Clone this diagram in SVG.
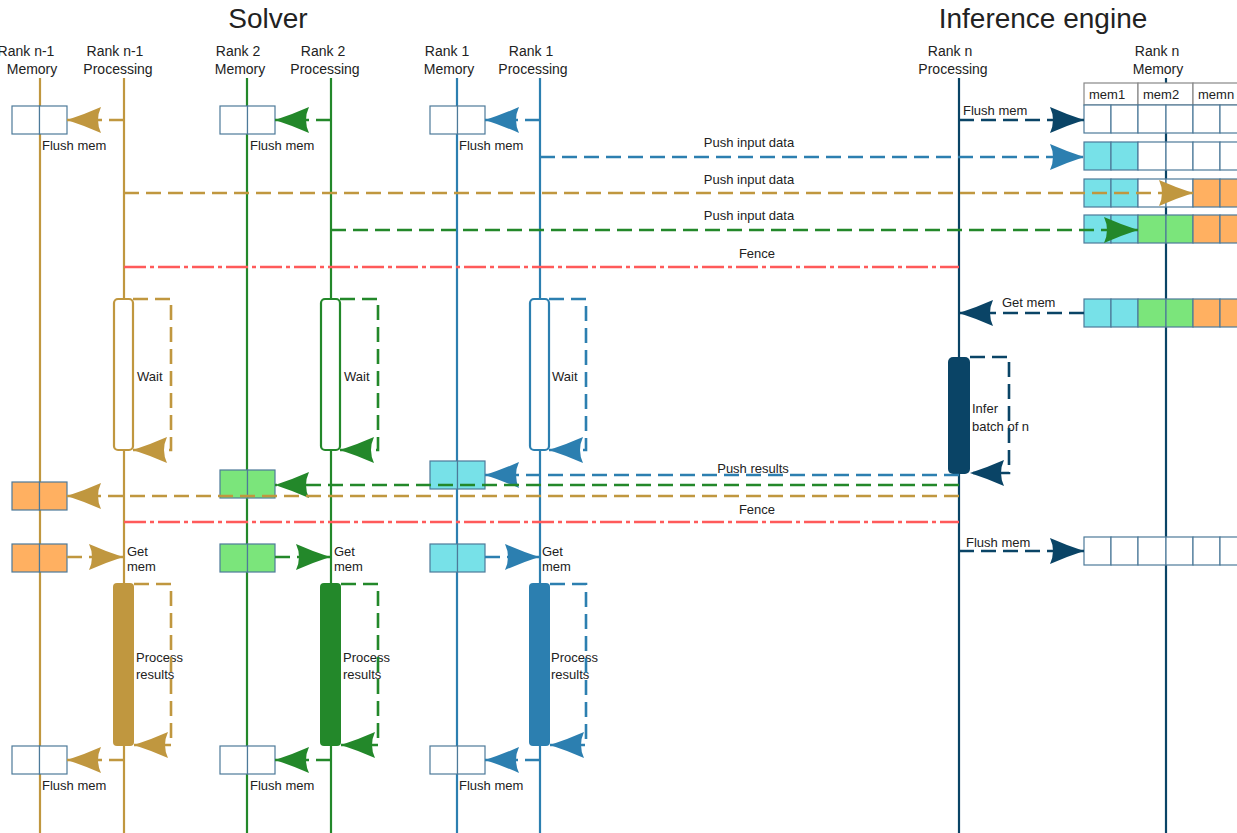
<svg xmlns="http://www.w3.org/2000/svg" width="1237" height="833" viewBox="0 0 1237 833">
<style>
text{font-family:"Liberation Sans",Arial,sans-serif;fill:#222}
.title{font-size:28px;text-anchor:middle}
.hdr{font-size:14px;text-anchor:middle}
.lbl{font-size:13px}
.mid{text-anchor:middle}
.life{stroke-width:2.2;fill:none}
.gold{stroke:#C0973F}
.green{stroke:#23882A}
.blue{stroke:#2C7FB0}
.navy{stroke:#0A4466}
.dash{stroke-width:2.6;fill:none;stroke-dasharray:15 7}
.fence{stroke:#FF5A5A;stroke-width:2.5;fill:none;stroke-dasharray:22 4 4 4}
.cell{stroke:#4d7a99;stroke-width:1.2}
.w{fill:#fff}
.c{fill:#77E1E8}
.g{fill:#7BE57B}
.o{fill:#FFB061}
.hcell{fill:#fff;stroke:#888;stroke-width:1.2}
</style>
<defs>
<marker id="aGold" markerUnits="userSpaceOnUse" markerWidth="35" markerHeight="27" refX="34" refY="13" orient="auto" viewBox="0 0 35 27"><path d="M34,13 Q17,7.5 0,0 Q6,13 0,26 Q17,18.5 34,13 Z" fill="#C0973F"/></marker>
<marker id="aGreen" markerUnits="userSpaceOnUse" markerWidth="35" markerHeight="27" refX="34" refY="13" orient="auto" viewBox="0 0 35 27"><path d="M34,13 Q17,7.5 0,0 Q6,13 0,26 Q17,18.5 34,13 Z" fill="#23882A"/></marker>
<marker id="aBlue" markerUnits="userSpaceOnUse" markerWidth="35" markerHeight="27" refX="34" refY="13" orient="auto" viewBox="0 0 35 27"><path d="M34,13 Q17,7.5 0,0 Q6,13 0,26 Q17,18.5 34,13 Z" fill="#2C7FB0"/></marker>
<marker id="aNavy" markerUnits="userSpaceOnUse" markerWidth="35" markerHeight="27" refX="34" refY="13" orient="auto" viewBox="0 0 35 27"><path d="M34,13 Q17,7.5 0,0 Q6,13 0,26 Q17,18.5 34,13 Z" fill="#0A4466"/></marker>
</defs>
<rect x="0" y="0" width="1237" height="833" fill="#fff"/>

<g id="titles">
<text class="title" x="268" y="28">Solver</text>
<text class="title" x="1043" y="28">Inference engine</text>
</g>

<g id="lifelines">
<g id="ll-rn1-mem"><text class="hdr" x="26" y="56">Rank n-1</text><text class="hdr" x="32" y="74">Memory</text><line class="life gold" x1="40" y1="78" x2="40" y2="833"/></g>
<g id="ll-rn1-proc"><text class="hdr" x="115" y="56">Rank n-1</text><text class="hdr" x="118" y="74">Processing</text><line class="life gold" x1="124" y1="78" x2="124" y2="833"/></g>
<g id="ll-r2-mem"><text class="hdr" x="238" y="56">Rank 2</text><text class="hdr" x="240" y="74">Memory</text><line class="life green" x1="247" y1="78" x2="247" y2="833"/></g>
<g id="ll-r2-proc"><text class="hdr" x="323" y="56">Rank 2</text><text class="hdr" x="325" y="74">Processing</text><line class="life green" x1="331" y1="78" x2="331" y2="833"/></g>
<g id="ll-r1-mem"><text class="hdr" x="447" y="56">Rank 1</text><text class="hdr" x="449" y="74">Memory</text><line class="life blue" x1="457" y1="78" x2="457" y2="833"/></g>
<g id="ll-r1-proc"><text class="hdr" x="531" y="56">Rank 1</text><text class="hdr" x="533" y="74">Processing</text><line class="life blue" x1="540" y1="78" x2="540" y2="833"/></g>
<g id="ll-rn-proc"><text class="hdr" x="950" y="56">Rank n</text><text class="hdr" x="953" y="74">Processing</text><line class="life navy" stroke-width="2.5" x1="959" y1="78" x2="959" y2="833"/></g>
<g id="ll-rn-mem"><text class="hdr" x="1157" y="56">Rank n</text><text class="hdr" x="1158" y="74">Memory</text><line class="life navy" stroke-width="2.5" x1="1166" y1="78" x2="1166" y2="833"/></g>
</g>

<g id="solver-memory">
<g id="m-rn1-flush1"><rect class="cell w" x="12" y="106" width="27.5" height="28"/><rect class="cell w" x="39.5" y="106" width="27.5" height="28"/></g>
<g id="m-r2-flush1"><rect class="cell w" x="220" y="106" width="27.5" height="28"/><rect class="cell w" x="247.5" y="106" width="27.5" height="28"/></g>
<g id="m-r1-flush1"><rect class="cell w" x="430" y="106" width="27.5" height="28"/><rect class="cell w" x="457.5" y="106" width="27.5" height="28"/></g>
<g id="m-r1-res"><rect class="cell c" x="430" y="461" width="27.5" height="28"/><rect class="cell c" x="457.5" y="461" width="27.5" height="28"/></g>
<g id="m-r2-res"><rect class="cell g" x="220" y="470" width="27.5" height="28"/><rect class="cell g" x="247.5" y="470" width="27.5" height="28"/></g>
<g id="m-rn1-res"><rect class="cell o" x="12" y="482" width="27.5" height="28"/><rect class="cell o" x="39.5" y="482" width="27.5" height="28"/></g>
<g id="m-rn1-get"><rect class="cell o" x="12" y="544" width="27.5" height="28"/><rect class="cell o" x="39.5" y="544" width="27.5" height="28"/></g>
<g id="m-r2-get"><rect class="cell g" x="220" y="544" width="27.5" height="28"/><rect class="cell g" x="247.5" y="544" width="27.5" height="28"/></g>
<g id="m-r1-get"><rect class="cell c" x="430" y="544" width="27.5" height="28"/><rect class="cell c" x="457.5" y="544" width="27.5" height="28"/></g>
<g id="m-rn1-flush2"><rect class="cell w" x="12" y="746" width="27.5" height="28"/><rect class="cell w" x="39.5" y="746" width="27.5" height="28"/></g>
<g id="m-r2-flush2"><rect class="cell w" x="220" y="746" width="27.5" height="28"/><rect class="cell w" x="247.5" y="746" width="27.5" height="28"/></g>
<g id="m-r1-flush2"><rect class="cell w" x="430" y="746" width="27.5" height="28"/><rect class="cell w" x="457.5" y="746" width="27.5" height="28"/></g>
</g>

<g id="rank-n-memory">
<g id="mem-header">
<rect class="hcell" x="1084" y="83" width="54" height="22"/><rect class="hcell" x="1138" y="83" width="55" height="22"/><rect class="hcell" x="1193" y="83" width="55" height="22"/>
<text class="lbl" x="1089" y="99">mem1</text><text class="lbl" x="1143" y="99">mem2</text><text class="lbl" x="1198" y="99">memn</text>
</g>
<g id="mem-row1"><rect class="cell w" x="1084" y="105" width="27" height="28"/><rect class="cell w" x="1111" y="105" width="27" height="28"/><rect class="cell w" x="1138" y="105" width="28" height="28"/><rect class="cell w" x="1166" y="105" width="27" height="28"/><rect class="cell w" x="1193" y="105" width="27" height="28"/><rect class="cell w" x="1220" y="105" width="28" height="28"/></g>
<g id="mem-row2"><rect class="cell c" x="1084" y="142" width="27" height="28"/><rect class="cell c" x="1111" y="142" width="27" height="28"/><rect class="cell w" x="1138" y="142" width="28" height="28"/><rect class="cell w" x="1166" y="142" width="27" height="28"/><rect class="cell w" x="1193" y="142" width="27" height="28"/><rect class="cell w" x="1220" y="142" width="28" height="28"/></g>
<g id="mem-row3"><rect class="cell c" x="1084" y="179" width="27" height="28"/><rect class="cell c" x="1111" y="179" width="27" height="28"/><rect class="cell w" x="1138" y="179" width="28" height="28"/><rect class="cell w" x="1166" y="179" width="27" height="28"/><rect class="cell o" x="1193" y="179" width="27" height="28"/><rect class="cell o" x="1220" y="179" width="28" height="28"/></g>
<g id="mem-row4"><rect class="cell c" x="1084" y="215" width="27" height="28"/><rect class="cell c" x="1111" y="215" width="27" height="28"/><rect class="cell g" x="1138" y="215" width="28" height="28"/><rect class="cell g" x="1166" y="215" width="27" height="28"/><rect class="cell o" x="1193" y="215" width="27" height="28"/><rect class="cell o" x="1220" y="215" width="28" height="28"/></g>
<g id="mem-get"><rect class="cell c" x="1084" y="299" width="27" height="28"/><rect class="cell c" x="1111" y="299" width="27" height="28"/><rect class="cell g" x="1138" y="299" width="28" height="28"/><rect class="cell g" x="1166" y="299" width="27" height="28"/><rect class="cell o" x="1193" y="299" width="27" height="28"/><rect class="cell o" x="1220" y="299" width="28" height="28"/></g>
<g id="mem-flush2"><rect class="cell w" x="1084" y="537" width="27" height="28"/><rect class="cell w" x="1111" y="537" width="27" height="28"/><rect class="cell w" x="1138" y="537" width="28" height="28"/><rect class="cell w" x="1166" y="537" width="27" height="28"/><rect class="cell w" x="1193" y="537" width="27" height="28"/><rect class="cell w" x="1220" y="537" width="28" height="28"/></g>
</g>

<g id="activations">
<g id="wait-rn1"><rect x="114" y="299" width="19" height="151" rx="4" fill="#fff" stroke="#C0973F" stroke-width="2.2"/><text class="lbl" x="137" y="381">Wait</text></g>
<g id="wait-r2"><rect x="321" y="299" width="19" height="151" rx="4" fill="#fff" stroke="#23882A" stroke-width="2.2"/><text class="lbl" x="344" y="381">Wait</text></g>
<g id="wait-r1"><rect x="530" y="299" width="19" height="151" rx="4" fill="#fff" stroke="#2C7FB0" stroke-width="2.2"/><text class="lbl" x="552" y="381">Wait</text></g>
<g id="infer"><rect x="948" y="357" width="22" height="117" rx="5" fill="#0A4466"/><text class="lbl" x="972" y="413">Infer</text><text class="lbl" x="972" y="431">batch of n</text></g>
<g id="proc-rn1"><rect x="113" y="583" width="21" height="163" rx="4" fill="#C0973F"/><text class="lbl" x="136" y="662">Process</text><text class="lbl" x="136" y="679">results</text></g>
<g id="proc-r2"><rect x="320" y="583" width="21" height="163" rx="4" fill="#23882A"/><text class="lbl" x="343" y="662">Process</text><text class="lbl" x="343" y="679">results</text></g>
<g id="proc-r1"><rect x="529" y="583" width="21" height="163" rx="4" fill="#2C7FB0"/><text class="lbl" x="551" y="662">Process</text><text class="lbl" x="551" y="679">results</text></g>
</g>

<g id="connectors">
<path class="dash gold" d="M124,120 H67" marker-end="url(#aGold)"/>
<path class="dash green" d="M331,120 H275" marker-end="url(#aGreen)"/>
<path class="dash blue" d="M540,120 H485" marker-end="url(#aBlue)"/>
<path class="dash navy" d="M959,120 H1084" marker-end="url(#aNavy)"/>
<path class="dash blue" d="M540,157 H1084" marker-end="url(#aBlue)"/>
<path class="dash gold" d="M124,193 H1193" marker-end="url(#aGold)"/>
<path class="dash green" d="M331,230 H1138" marker-end="url(#aGreen)"/>
<path class="fence" d="M124,267 H959"/>
<path class="dash navy" d="M1084,313 H959" marker-end="url(#aNavy)"/>
<path class="dash gold" d="M133,299 H171 V450 H133" marker-end="url(#aGold)"/>
<path class="dash green" d="M340,299 H378 V450 H340" marker-end="url(#aGreen)"/>
<path class="dash blue" d="M549,299 H586 V450 H549" marker-end="url(#aBlue)"/>
<path class="dash navy" d="M970,357 H1009 V473 H970" marker-end="url(#aNavy)"/>
<path class="dash blue" d="M959,475 H485" marker-end="url(#aBlue)"/>
<path class="dash green" d="M959,485 H275" marker-end="url(#aGreen)"/>
<path class="dash gold" d="M959,496 H67" marker-end="url(#aGold)"/>
<path class="fence" d="M124,522 H959"/>
<path class="dash navy" d="M959,551 H1084" marker-end="url(#aNavy)"/>
<path class="dash gold" d="M67,557 H123" marker-end="url(#aGold)"/>
<path class="dash green" d="M275,557 H330" marker-end="url(#aGreen)"/>
<path class="dash blue" d="M485,557 H539" marker-end="url(#aBlue)"/>
<path class="dash gold" d="M134,584 H171 V745 H134" marker-end="url(#aGold)"/>
<path class="dash green" d="M341,584 H378 V745 H341" marker-end="url(#aGreen)"/>
<path class="dash blue" d="M550,584 H586 V745 H550" marker-end="url(#aBlue)"/>
<path class="dash gold" d="M124,760 H67" marker-end="url(#aGold)"/>
<path class="dash green" d="M331,760 H275" marker-end="url(#aGreen)"/>
<path class="dash blue" d="M540,760 H485" marker-end="url(#aBlue)"/>
</g>

<g id="labels">
<text class="lbl" x="42" y="150">Flush mem</text>
<text class="lbl" x="250" y="150">Flush mem</text>
<text class="lbl" x="459" y="150">Flush mem</text>
<text class="lbl" x="963" y="115">Flush mem</text>
<text class="lbl mid" x="749" y="147">Push input data</text>
<text class="lbl mid" x="749" y="184">Push input data</text>
<text class="lbl mid" x="749" y="220">Push input data</text>
<text class="lbl mid" x="757" y="258">Fence</text>
<text class="lbl" x="1002" y="307">Get mem</text>
<text class="lbl mid" x="753" y="473">Push results</text>
<text class="lbl mid" x="757" y="514">Fence</text>
<text class="lbl" x="966" y="547">Flush mem</text>
<text class="lbl" x="127" y="556">Get</text><text class="lbl" x="127" y="571">mem</text>
<text class="lbl" x="334" y="556">Get</text><text class="lbl" x="334" y="571">mem</text>
<text class="lbl" x="542" y="556">Get</text><text class="lbl" x="542" y="571">mem</text>
<text class="lbl" x="42" y="790">Flush mem</text>
<text class="lbl" x="250" y="790">Flush mem</text>
<text class="lbl" x="459" y="790">Flush mem</text>
</g>
</svg>
